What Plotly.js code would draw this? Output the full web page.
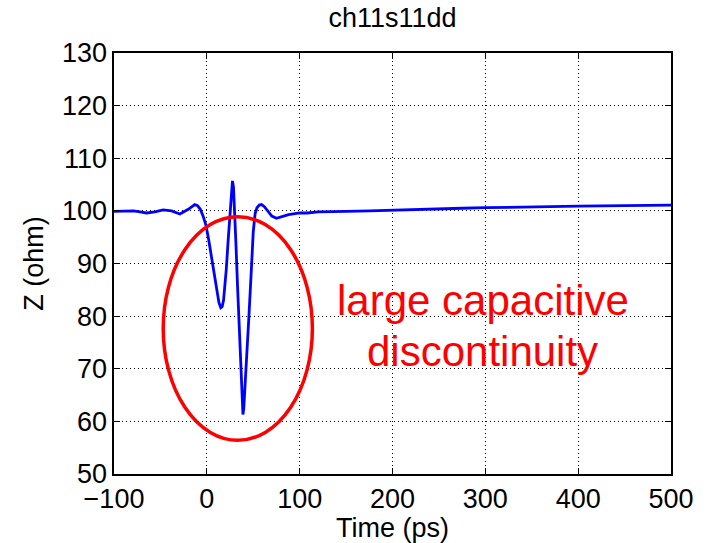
<!DOCTYPE html>
<html>
<head>
<meta charset="utf-8">
<script src="https://cdn.plot.ly/plotly-3.0.1.min.js"></script>
<style>
  html, body { margin: 0; padding: 0; background: #fff; }
  #chart { width: 710px; height: 543px; }
</style>
</head>
<body>
<div id="chart"></div>
<script>
// Data
const timePs = [-100, -90, -79, -72, -65, -56, -47, -38, -29, -20, -13, -10, -7, -4, -1, 2, 5, 8, 11, 13, 15, 16.5, 18, 19.5, 21, 23, 25, 26.5, 27.6, 28.7, 30, 31.3, 33, 35, 37, 38.2, 38.9, 39.8, 41, 43, 45.5, 48, 50, 52, 54, 56.5, 59, 62, 66, 70, 75, 80, 88, 100, 108, 120, 133, 150, 175, 200, 225, 250, 275, 300, 325, 350, 375, 400, 425, 450, 475, 500];
const zOhm   = [99.9, 99.9, 100.0, 99.8, 99.6, 99.8, 100.2, 100.0, 99.4, 100.3, 101.2, 101.0, 100.3, 99.0, 97.3, 94.5, 91.0, 87.5, 84.3, 82.6, 81.6, 81.8, 83.0, 85.5, 89.0, 94.5, 100.0, 104.0, 105.7, 104.5, 100.0, 94.0, 86.0, 77.0, 67.5, 62.3, 61.3, 62.5, 66.0, 73.0, 80.5, 89.0, 96.0, 99.5, 100.6, 101.1, 101.2, 100.8, 99.8, 99.0, 98.6, 98.9, 99.3, 99.6, 99.6, 99.8, 99.8, 99.9, 100.0, 100.15, 100.3, 100.4, 100.5, 100.6, 100.7, 100.75, 100.8, 100.9, 100.95, 101.0, 101.05, 101.1];

const titleText = "ch11s11dd";
const xTitle = "Time (ps)";
const yTitle = "Z (ohm)";
const xTicks = [-100, 0, 100, 200, 300, 400, 500];
const yTicks = [50, 60, 70, 80, 90, 100, 110, 120, 130];
const noteLine1 = "large capacitive";
const noteLine2 = "discontinuity";
// ellipse bounds in data units
const ellipseX = [-47, 113.7];
const ellipseY = [56.4, 98.9];

const FONT = "Liberation Sans, Arial, Helvetica, sans-serif";

const trace = {
  x: timePs,
  y: zOhm,
  type: "scatter",
  mode: "lines",
  line: { color: "#0000ff", width: 2.8 },
  hoverinfo: "skip"
};

const axisCommon = {
  showline: true,
  linecolor: "#000",
  linewidth: 1.6,
  mirror: "ticks",
  ticks: "inside",
  ticklen: 6,
  tickwidth: 1.2,
  tickcolor: "#000",
  showgrid: true,
  gridcolor: "#000",
  gridwidth: 1,
  griddash: "1px,3px",
  zeroline: false,
  tickfont: { family: FONT, size: 27, color: "#000" },
  automargin: false
};

const layout = {
  width: 710,
  height: 543,
  paper_bgcolor: "#fff",
  plot_bgcolor: "#fff",
  showlegend: false,
  margin: { l: 114, r: 39, t: 53, b: 69, pad: 0 },
  title: {
    text: titleText,
    font: { family: FONT, size: 27, color: "#000" },
    x: 0.5, xref: "paper", xanchor: "center",
    y: 1 - 18 / 543, yref: "container", yanchor: "middle"
  },
  xaxis: Object.assign({}, axisCommon, {
    range: [-100, 500],
    tickmode: "array",
    tickvals: xTicks,
    ticktext: xTicks.map(v => v < 0 ? "\u2212" + Math.abs(v) : String(v)),
    title: { text: xTitle, font: { family: FONT, size: 27, color: "#000" }, standoff: 3 }
  }),
  yaxis: Object.assign({}, axisCommon, {
    range: [50, 130],
    tickmode: "array",
    tickvals: yTicks,
    ticktext: yTicks.map(String),
    title: { text: yTitle, font: { family: FONT, size: 27, color: "#000" }, standoff: 10 }
  }),
  shapes: [{
    type: "circle",
    xref: "x", yref: "y",
    x0: ellipseX[0], x1: ellipseX[1],
    y0: ellipseY[0], y1: ellipseY[1],
    line: { color: "#ff0000", width: 3.5 },
    fillcolor: "rgba(0,0,0,0)"
  }],
  annotations: [
    {
      text: noteLine1, x: 297.3, y: 83.0, xref: "x", yref: "y",
      showarrow: false, xanchor: "center", yanchor: "middle",
      font: { family: FONT, size: 42, color: "#ff0000" }
    },
    {
      text: noteLine2, x: 297.3, y: 73.2, xref: "x", yref: "y",
      showarrow: false, xanchor: "center", yanchor: "middle",
      font: { family: FONT, size: 42, color: "#ff0000" }
    }
  ]
};

Plotly.newPlot("chart", [trace], layout, { staticPlot: true, displayModeBar: false });
</script>
</body>
</html>
